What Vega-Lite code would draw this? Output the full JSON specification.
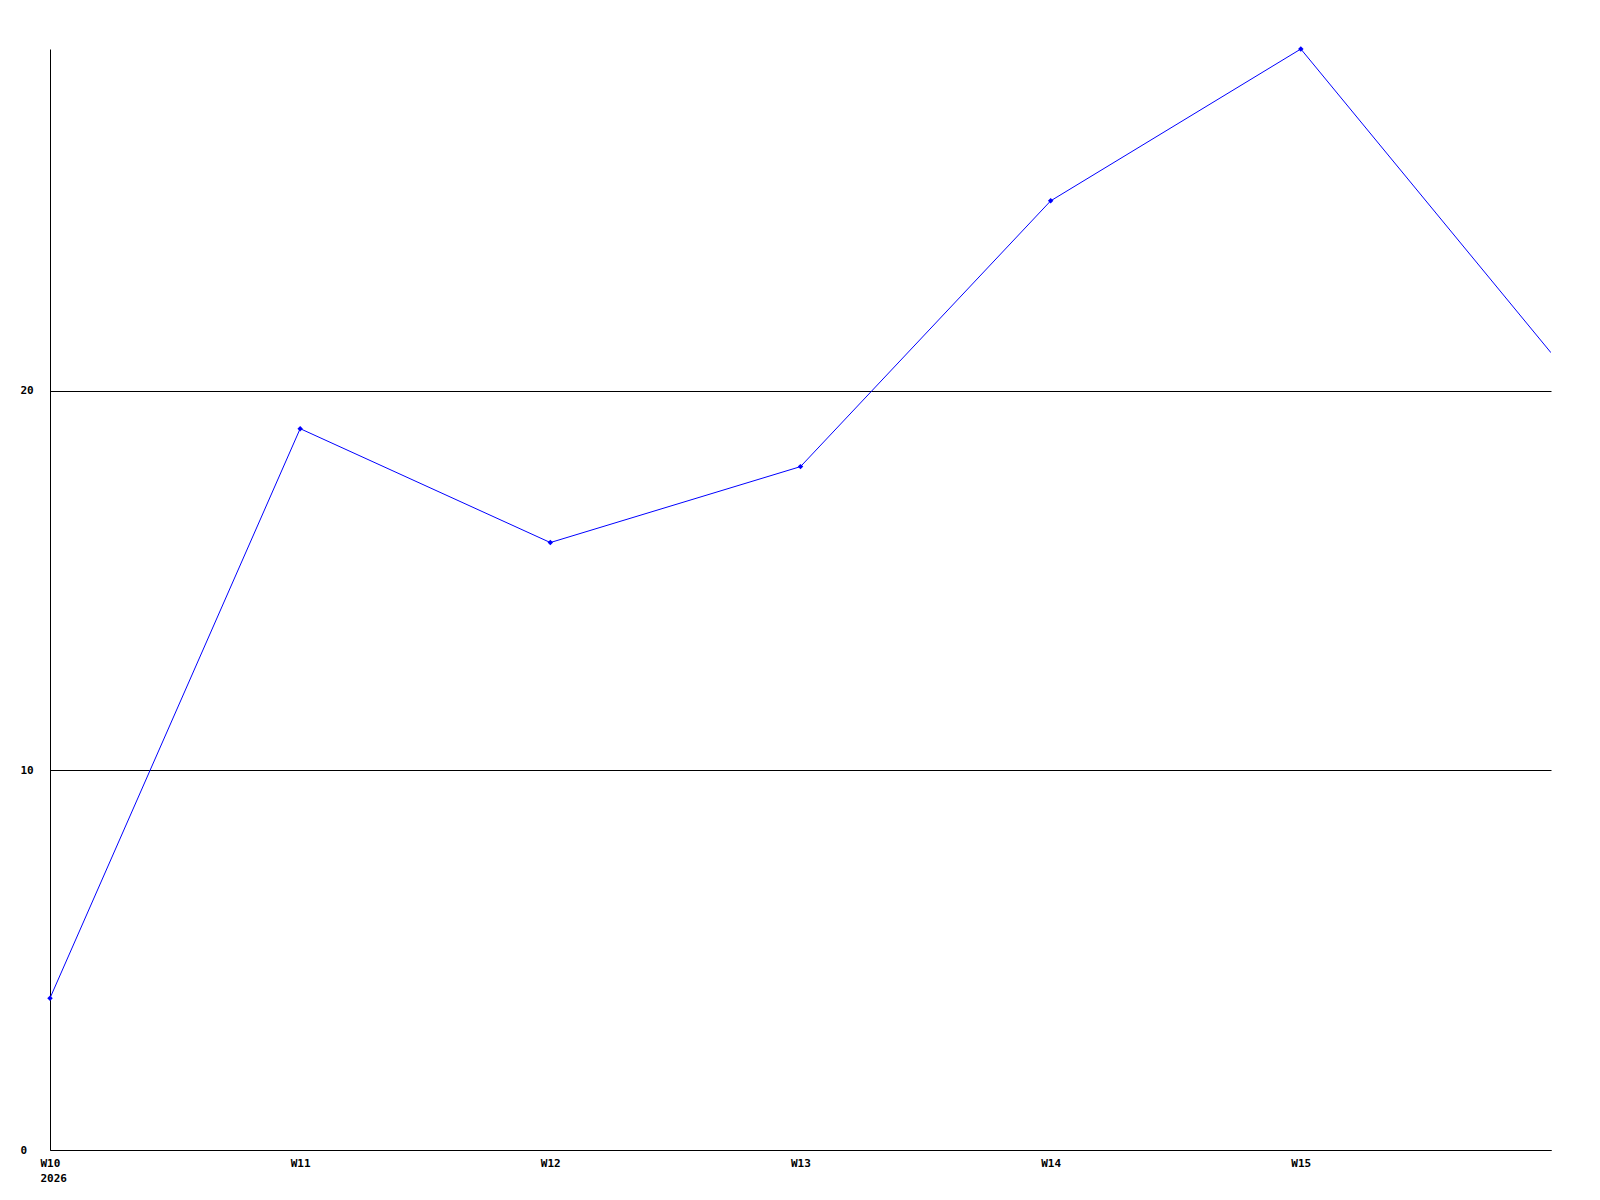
{
  "$schema": "https://vega.github.io/schema/vega-lite/v6.json",
  "width": 1501,
  "height": 1101,
  "autosize": {"type": "none"},
  "padding": {"left": 50, "top": 49, "right": 49, "bottom": 50},
  "background": "white",
  "config": {
    "view": {"stroke": null},
    "axis": {
      "labelFont": "DejaVu Sans Mono",
      "labelFontWeight": "bold",
      "labelFontSize": 11,
      "labelColor": "black",
      "domainColor": "black",
      "domainWidth": 1,
      "ticks": false,
      "title": null
    }
  },
  "data": {
    "values": [
      {"week": 10, "value": 4},
      {"week": 11, "value": 19},
      {"week": 12, "value": 16},
      {"week": 13, "value": 18},
      {"week": 14, "value": 25},
      {"week": 15, "value": 29},
      {"week": 16, "value": 21}
    ]
  },
  "encoding": {
    "x": {
      "field": "week",
      "type": "quantitative",
      "scale": {"domain": [10, 16], "nice": false, "zero": false},
      "axis": {
        "values": [10, 11, 12, 13, 14, 15],
        "grid": false,
        "labelAlign": "left",
        "labelOffset": -10,
        "labelBaseline": "top",
        "labelPadding": 7,
        "labelLineHeight": 15,
        "labelFlush": false,
        "labelOverlap": false,
        "labelExpr": "datum.value == 10 ? ['W10', '2026'] : 'W' + datum.value"
      }
    },
    "y": {
      "field": "value",
      "type": "quantitative",
      "scale": {"domain": [0, 29], "nice": false},
      "axis": {
        "values": [0, 10, 20],
        "grid": true,
        "gridColor": "black",
        "gridOpacity": 1,
        "gridWidth": 1,
        "labelAlign": "left",
        "labelPadding": 30,
        "labelBaseline": "middle",
        "labelFlush": false
      }
    }
  },
  "layer": [
    {
      "mark": {"type": "line", "color": "#0000ff", "strokeWidth": 1, "clip": true}
    },
    {
      "transform": [{"filter": "datum.week < 16"}],
      "mark": {"type": "point", "shape": "diamond", "filled": true, "color": "#0000ff", "size": 30, "opacity": 1}
    }
  ]
}
